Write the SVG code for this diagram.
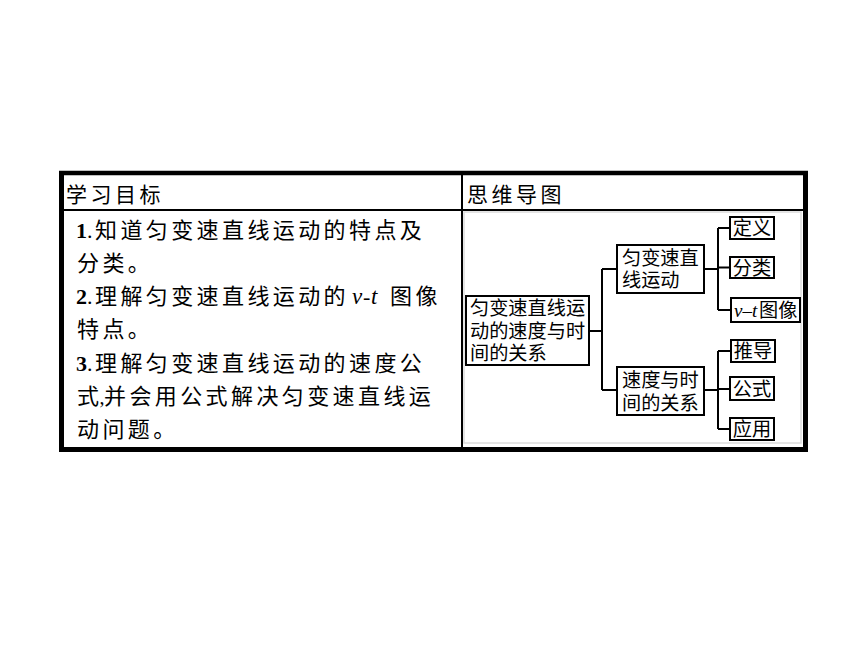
<svg xmlns="http://www.w3.org/2000/svg" width="860" height="645" viewBox="0 0 860 645">
<style>
.cjk{font-family:"Noto Sans CJK SC","Noto Sans",sans-serif;fill:#000}
.hd{font-size:21px;letter-spacing:3.5px}
.bd{font-size:22px;letter-spacing:3.4px}
.b0{font-size:22px}
.num{font-family:"Liberation Serif",serif;font-weight:bold;font-size:22px;fill:#000}
.dot{font-family:"Liberation Serif",serif;font-size:22px;fill:#000}
.it{font-family:"Liberation Serif",serif;font-style:italic;font-size:23px;fill:#000}
.mm{font-size:19.2px}
.mmc{font-size:19.2px;text-anchor:middle}
.box{fill:#fff;stroke:#000;stroke-width:2}
.ln{stroke:#000;stroke-width:2;fill:none}
</style>
<rect width="860" height="645" fill="#fff"/>
<g id="table">
<rect x="464" y="212" width="337" height="231" fill="none" stroke="#dcdcdc" stroke-width="1.5"/>
<line x1="59" y1="173" x2="808" y2="173" stroke="#000" stroke-width="4.5"/>
<line x1="59" y1="449.5" x2="808" y2="449.5" stroke="#000" stroke-width="5"/>
<line x1="61.5" y1="171" x2="61.5" y2="452" stroke="#000" stroke-width="5"/>
<line x1="805.5" y1="171" x2="805.5" y2="452" stroke="#000" stroke-width="5"/>
<line x1="61" y1="210" x2="806" y2="210" stroke="#000" stroke-width="2"/>
<line x1="462" y1="173" x2="462" y2="449" stroke="#000" stroke-width="2"/>
</g>
<g id="header">
<text class="cjk hd" x="66" y="202">学习目标</text>
<text class="cjk hd" x="467" y="202">思维导图</text>
</g>
<g id="goals">
<text class="num" x="76" y="238">1</text><text class="dot" x="87" y="238">.</text><text class="cjk bd" x="95" y="238">知道匀变速直线运动的特点及</text>
<text class="cjk bd" x="77" y="271">分类。</text>
<text class="num" x="76" y="304">2</text><text class="dot" x="87" y="304">.</text><text class="cjk bd" x="95" y="304">理解匀变速直线运动的</text><text class="it" x="352" y="304">v</text><text class="dot" x="363" y="304">-</text><text class="it" x="371" y="304">t</text><text class="cjk bd" x="390" y="304">图像</text>
<text class="cjk bd" x="77" y="337">特点。</text>
<text class="num" x="76" y="371">3</text><text class="dot" x="87" y="371">.</text><text class="cjk bd" x="95" y="371">理解匀变速直线运动的速度公</text>
<text class="cjk b0" x="77" y="404">式</text><text class="dot" x="99.5" y="404" style="font-size:20px">,</text><text class="cjk bd" x="104" y="404">并会用公式解决匀变速直线运</text>
<text class="cjk bd" x="77" y="437">动问题。</text>
</g>
<g id="connectors">
<path class="ln" d="M589 331H602M602 269V390M602 269H617M602 390H617"/>
<path class="ln" d="M704 269H718M718 228V310M718 228H730M718 267.5H730M718 310H731"/>
<path class="ln" d="M704 390H718M718 351V429M718 351H731M718 389H730M718 429H730"/>
</g>
<g id="node-main">
<rect class="box" x="466" y="296" width="123" height="69"/>
<text class="cjk mm" x="470" y="315">匀变速直线运</text>
<text class="cjk mm" x="470" y="338">动的速度与时</text>
<text class="cjk mm" x="470" y="360">间的关系</text>
</g>
<g id="node-uniform">
<rect class="box" x="617" y="245" width="87" height="48"/>
<text class="cjk mm" x="622" y="265">匀变速直</text>
<text class="cjk mm" x="622" y="287">线运动</text>
</g>
<g id="node-relation">
<rect class="box" x="617" y="367" width="87" height="48"/>
<text class="cjk mm" x="622" y="387">速度与时</text>
<text class="cjk mm" x="622" y="410">间的关系</text>
</g>
<g id="node-def">
<rect class="box" x="730" y="217" width="44" height="22"/>
<text class="cjk mmc" x="752" y="235">定义</text>
</g>
<g id="node-class">
<rect class="box" x="730" y="257" width="44" height="21"/>
<text class="cjk mmc" x="752" y="274.5">分类</text>
</g>
<g id="node-vt">
<rect class="box" x="731" y="298" width="69" height="24"/>
<text x="734" y="317" style="font-family:'Liberation Serif',serif;font-style:italic;font-size:19px">v–t</text>
<text class="cjk mm" x="759" y="317">图像</text>
</g>
<g id="node-derive">
<rect class="box" x="731" y="340" width="44" height="22"/>
<text class="cjk mmc" x="753" y="358">推导</text>
</g>
<g id="node-formula">
<rect class="box" x="730" y="377" width="44" height="23"/>
<text class="cjk mmc" x="752" y="395.5">公式</text>
</g>
<g id="node-apply">
<rect class="box" x="730" y="418" width="44" height="22"/>
<text class="cjk mmc" x="752" y="436">应用</text>
</g>
</svg>
